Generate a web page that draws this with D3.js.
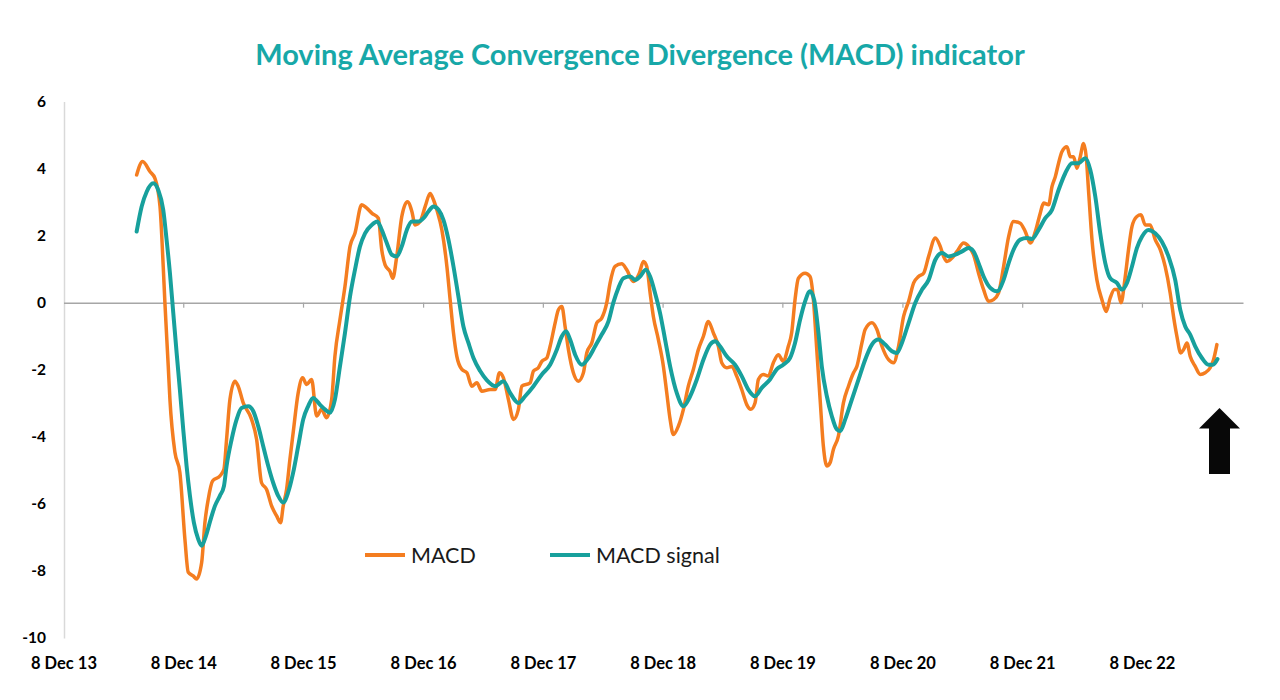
<!doctype html>
<html>

<head>
    <meta charset="UTF-8">
    <title>MACD indicator</title>
    <script src="https://d3js.org/d3.v7.min.js"></script>
    <style>
        body {
            margin: 0;
            background: #ffffff;
        }
    </style>
</head>

<body>
    <svg id="chart" width="1280" height="700"></svg>
    <script>
        // time is in decimal years
        var macdData = [
            [2014.545, 3.81], [2014.595, 4.21], [2014.656, 3.91], [2014.698, 3.71], [2014.740, 2.87],
            [2014.767, 1.08], [2014.781, 0], [2014.809, -1.9], [2014.823, -2.89], [2014.865, -4.47],
            [2014.906, -5.06], [2014.948, -7.05], [2014.976, -8.04], [2015.017, -8.15], [2015.046, -8.24],
            [2015.088, -7.75], [2015.115, -6.56], [2015.143, -5.86], [2015.179, -5.32], [2015.240, -5.17],
            [2015.274, -4.97], [2015.296, -4.08], [2015.324, -2.89], [2015.366, -2.34], [2015.393, -2.49],
            [2015.435, -2.99], [2015.505, -3.48], [2015.547, -4.08], [2015.588, -5.37], [2015.630, -5.57],
            [2015.672, -6.06], [2015.714, -6.36], [2015.747, -6.56], [2015.769, -6.06], [2015.797, -5.57],
            [2015.825, -4.67], [2015.852, -3.88], [2015.894, -2.69], [2015.931, -2.24], [2015.964, -2.44],
            [2016.006, -2.29], [2016.048, -3.38], [2016.089, -3.18], [2016.131, -3.43], [2016.173, -2.89],
            [2016.200, -1.6], [2016.242, -0.51], [2016.284, 0.49], [2016.326, 1.68], [2016.367, 2.07],
            [2016.423, 2.92], [2016.465, 2.82], [2016.507, 2.67], [2016.562, 2.52], [2016.590, 1.58],
            [2016.618, 1.13], [2016.659, 0.93], [2016.682, 0.73], [2016.715, 1.38], [2016.757, 2.57],
            [2016.804, 3.01], [2016.841, 2.72], [2016.868, 2.32], [2016.910, 2.42], [2016.952, 2.87],
            [2016.993, 3.26], [2017.021, 3.07], [2017.049, 2.77], [2017.091, 2.17], [2017.133, 1.08],
            [2017.160, 0.09], [2017.188, -0.9], [2017.216, -1.6], [2017.258, -1.99], [2017.300, -2.09],
            [2017.341, -2.49], [2017.383, -2.39], [2017.425, -2.64], [2017.494, -2.59], [2017.536, -2.59],
            [2017.572, -2.09], [2017.605, -2.24], [2017.647, -2.89], [2017.689, -3.48], [2017.730, -3.18],
            [2017.759, -2.49], [2017.828, -2.39], [2017.856, -2.04], [2017.897, -1.94], [2017.926, -1.75],
            [2017.967, -1.65], [2017.995, -1.3], [2018.037, -0.6], [2018.064, -0.21], [2018.093, -0.11],
            [2018.120, -0.71], [2018.148, -1.4], [2018.189, -2.09], [2018.231, -2.34], [2018.273, -2.09],
            [2018.301, -1.5], [2018.343, -1.2], [2018.385, -0.6], [2018.426, -0.46], [2018.468, 0],
            [2018.496, 0.59], [2018.537, 1.08], [2018.593, 1.16], [2018.635, 0.98], [2018.690, 0.63],
            [2018.740, 0.88], [2018.774, 1.23], [2018.802, 1.08], [2018.830, 0.29], [2018.857, -0.41],
            [2018.899, -1.1], [2018.941, -1.9], [2018.969, -2.69], [2018.997, -3.48], [2019.024, -3.93],
            [2019.066, -3.68], [2019.108, -3.18], [2019.149, -2.49], [2019.191, -1.99], [2019.233, -1.4],
            [2019.275, -1.0], [2019.316, -0.56], [2019.358, -0.9], [2019.400, -1.3], [2019.428, -1.79],
            [2019.470, -1.94], [2019.512, -1.9], [2019.553, -2.19], [2019.595, -2.59], [2019.637, -3.04],
            [2019.670, -3.18], [2019.706, -2.99], [2019.734, -2.29], [2019.775, -2.14], [2019.817, -2.19],
            [2019.859, -1.79], [2019.901, -1.55], [2019.942, -1.75], [2019.984, -1.3], [2020.012, -0.9],
            [2020.040, 0.09], [2020.068, 0.73], [2020.124, 0.88], [2020.165, 0.78], [2020.193, 0.09],
            [2020.221, -1.4], [2020.249, -2.89], [2020.276, -4.28], [2020.305, -4.87], [2020.332, -4.77],
            [2020.360, -4.37], [2020.401, -3.98], [2020.443, -2.99], [2020.485, -2.49], [2020.527, -2.09],
            [2020.555, -1.9], [2020.597, -1.2], [2020.624, -0.8], [2020.680, -0.6], [2020.722, -0.8],
            [2020.764, -1.3], [2020.819, -1.7], [2020.861, -1.79], [2020.902, -1.3], [2020.944, -0.41],
            [2020.986, 0.04], [2021.028, 0.59], [2021.069, 0.78], [2021.111, 0.88], [2021.153, 1.38],
            [2021.209, 1.93], [2021.250, 1.68], [2021.278, 1.38], [2021.306, 1.23], [2021.348, 1.33],
            [2021.390, 1.53], [2021.445, 1.78], [2021.487, 1.68], [2021.528, 1.43], [2021.570, 0.88],
            [2021.612, 0.39], [2021.654, 0.04], [2021.695, 0.09], [2021.737, 0.29], [2021.779, 1.08],
            [2021.821, 1.97], [2021.862, 2.42], [2021.918, 2.37], [2021.960, 2.12], [2022.002, 1.78],
            [2022.044, 2.12], [2022.085, 2.67], [2022.113, 2.97], [2022.155, 2.92], [2022.183, 3.46],
            [2022.211, 3.76], [2022.238, 4.16], [2022.266, 4.5], [2022.308, 4.65], [2022.336, 4.35],
            [2022.363, 4.35], [2022.392, 4.01], [2022.419, 4.35], [2022.447, 4.75], [2022.469, 4.35],
            [2022.488, 3.36], [2022.517, 1.88], [2022.558, 0.68], [2022.600, 0.09], [2022.636, -0.26],
            [2022.669, 0.14], [2022.705, 0.39], [2022.730, 0.39], [2022.759, 0], [2022.795, 0.78],
            [2022.822, 1.58], [2022.851, 2.27], [2022.892, 2.57], [2022.926, 2.62], [2022.962, 2.32],
            [2023.003, 2.32], [2023.045, 1.88], [2023.087, 1.58], [2023.128, 1.08], [2023.170, 0.29],
            [2023.198, -0.41], [2023.226, -1.0], [2023.258, -1.5], [2023.282, -1.4], [2023.310, -1.2],
            [2023.337, -1.6], [2023.379, -1.9], [2023.421, -2.14], [2023.462, -2.09], [2023.504, -1.94],
            [2023.532, -1.7], [2023.560, -1.25]
        ];

        var signalData = [
            [2014.545, 2.12], [2014.587, 2.87], [2014.629, 3.31], [2014.684, 3.56], [2014.725, 3.36],
            [2014.767, 2.77], [2014.795, 1.88], [2014.823, 0.88], [2014.851, -0.31], [2014.879, -1.5],
            [2014.906, -2.59], [2014.934, -3.78], [2014.962, -4.87], [2014.990, -5.76], [2015.023, -6.56],
            [2015.059, -7.05], [2015.088, -7.25], [2015.123, -6.96], [2015.163, -6.46], [2015.199, -6.06],
            [2015.240, -5.76], [2015.274, -5.47], [2015.296, -4.87], [2015.338, -4.08], [2015.380, -3.48],
            [2015.421, -3.14], [2015.477, -3.09], [2015.518, -3.23], [2015.560, -3.68], [2015.602, -4.28],
            [2015.644, -4.87], [2015.685, -5.37], [2015.727, -5.76], [2015.769, -5.96], [2015.810, -5.66],
            [2015.852, -5.07], [2015.894, -4.28], [2015.936, -3.48], [2015.977, -3.09], [2016.019, -2.84],
            [2016.075, -3.04], [2016.117, -3.18], [2016.159, -3.28], [2016.200, -2.89], [2016.242, -1.9],
            [2016.284, -0.9], [2016.326, 0.19], [2016.367, 0.98], [2016.409, 1.68], [2016.451, 2.07],
            [2016.507, 2.32], [2016.553, 2.42], [2016.590, 2.17], [2016.632, 1.78], [2016.674, 1.43],
            [2016.715, 1.38], [2016.757, 1.68], [2016.799, 2.17], [2016.841, 2.42], [2016.896, 2.42],
            [2016.938, 2.52], [2016.979, 2.72], [2017.021, 2.87], [2017.063, 2.77], [2017.104, 2.47],
            [2017.146, 1.88], [2017.188, 1.08], [2017.229, 0.19], [2017.271, -0.71], [2017.313, -1.2],
            [2017.355, -1.65], [2017.411, -2.04], [2017.466, -2.31], [2017.536, -2.49], [2017.605, -2.34],
            [2017.661, -2.69], [2017.730, -2.99], [2017.786, -2.79], [2017.856, -2.49], [2017.926, -2.14],
            [2017.995, -1.85], [2018.051, -1.4], [2018.093, -1.0], [2018.128, -0.85], [2018.162, -1.1],
            [2018.204, -1.55], [2018.260, -1.85], [2018.315, -1.65], [2018.371, -1.3], [2018.426, -0.95],
            [2018.482, -0.56], [2018.523, 0], [2018.565, 0.44], [2018.607, 0.73], [2018.663, 0.78],
            [2018.704, 0.68], [2018.746, 0.78], [2018.794, 0.98], [2018.830, 0.78], [2018.871, 0.29],
            [2018.913, -0.31], [2018.955, -1.1], [2018.997, -1.9], [2019.053, -2.7], [2019.108, -3.09],
            [2019.164, -2.79], [2019.220, -2.29], [2019.275, -1.7], [2019.331, -1.25], [2019.373, -1.15],
            [2019.414, -1.3], [2019.470, -1.6], [2019.539, -1.85], [2019.595, -2.19], [2019.650, -2.59],
            [2019.706, -2.79], [2019.762, -2.54], [2019.831, -2.29], [2019.887, -1.99], [2019.942, -1.85],
            [2019.998, -1.65], [2020.040, -1.2], [2020.082, -0.51], [2020.124, 0.04], [2020.165, 0.34],
            [2020.199, 0.09], [2020.235, -0.9], [2020.263, -1.9], [2020.305, -2.79], [2020.346, -3.38],
            [2020.388, -3.78], [2020.416, -3.83], [2020.458, -3.48], [2020.513, -2.89], [2020.569, -2.29],
            [2020.624, -1.7], [2020.680, -1.25], [2020.735, -1.1], [2020.791, -1.25], [2020.847, -1.45],
            [2020.888, -1.5], [2020.930, -1.2], [2020.986, -0.6], [2021.042, 0], [2021.098, 0.39],
            [2021.153, 0.68], [2021.209, 1.28], [2021.265, 1.48], [2021.320, 1.38], [2021.376, 1.43],
            [2021.432, 1.53], [2021.487, 1.63], [2021.528, 1.53], [2021.570, 1.18], [2021.612, 0.78],
            [2021.668, 0.44], [2021.724, 0.34], [2021.779, 0.68], [2021.821, 1.18], [2021.862, 1.58],
            [2021.918, 1.88], [2021.974, 1.93], [2022.016, 1.9], [2022.071, 2.17], [2022.127, 2.52],
            [2022.183, 2.77], [2022.238, 3.36], [2022.294, 3.86], [2022.350, 4.16], [2022.405, 4.16],
            [2022.461, 4.31], [2022.503, 3.96], [2022.545, 3.16], [2022.586, 2.07], [2022.628, 1.18],
            [2022.669, 0.73], [2022.725, 0.59], [2022.767, 0.39], [2022.809, 0.59], [2022.851, 1.08],
            [2022.892, 1.63], [2022.934, 1.97], [2022.989, 2.17], [2023.045, 2.07], [2023.101, 1.82],
            [2023.156, 1.38], [2023.212, 0.68], [2023.254, -0.21], [2023.296, -0.71], [2023.337, -0.95],
            [2023.379, -1.3], [2023.435, -1.65], [2023.490, -1.85], [2023.527, -1.85], [2023.565, -1.68]
        ];

        var tickYears = [2013, 2014, 2015, 2016, 2017, 2018, 2019, 2020, 2021, 2022];
        var yTicks = [-10, -8, -6, -4, -2, 0, 2, 4, 6];
        var seriesNames = ["MACD", "MACD signal"];
        var seriesColors = ["#f47d20", "#17a09c"];

        function toDate(t) {
            var y = Math.floor(t);
            var start = new Date(y, 0, 1).getTime();
            var end = new Date(y + 1, 0, 1).getTime();
            return new Date(start + (t - y) * (end - start));
        }

        var svg = d3.select("#chart");

        var x = d3.scaleTime()
            .domain([new Date(2013, 11, 8), new Date(2023, 9, 12)])
            .range([63.5, 1243]);
        var y = d3.scaleLinear()
            .domain([-10, 6])
            .range([638, 101.5]);

        // title
        svg.append("text")
            .attr("x", 640)
            .attr("y", 65)
            .attr("text-anchor", "middle")
            .attr("font-family", "Lato, sans-serif")
            .attr("font-weight", "bold")
            .attr("font-size", 29)
            .attr("fill", "#17a8a8")
            .text("Moving Average Convergence Divergence (MACD) indicator");

        // y axis
        var yAxis = svg.append("g")
            .attr("transform", "translate(64,0)")
            .call(d3.axisLeft(y).tickValues(yTicks).tickSize(0).tickPadding(18)
                .tickFormat(function (d) { return String(d); }));
        yAxis.select(".domain").attr("stroke", "#d9d9d9").attr("stroke-width", 1.5);
        yAxis.selectAll("text")
            .attr("font-family", "Lato, sans-serif")
            .attr("font-weight", "bold")
            .attr("font-size", 15.5)
            .attr("fill", "#000");

        // x axis sits on zero
        var xTicks = tickYears.map(function (yr) { return new Date(yr, 11, 8); });
        var xAxis = svg.append("g")
            .attr("transform", "translate(0," + y(0) + ")")
            .call(d3.axisBottom(x).tickValues(xTicks).tickSize(5).tickSizeOuter(0)
                .tickFormat(function (d) { return "8 Dec " + d3.timeFormat("%y")(d); }));
        xAxis.select(".domain").attr("stroke", "#a6a6a6").attr("stroke-width", 1.5);
        xAxis.selectAll(".tick line").attr("stroke", "#a6a6a6").attr("stroke-width", 1.2);
        xAxis.selectAll(".tick").filter(function (d, i) { return i === 0; }).select("line").remove();
        xAxis.selectAll("text")
            .attr("y", 664 - y(0))
            .attr("dy", "0.32em")
            .attr("font-family", "Lato, sans-serif")
            .attr("font-weight", "bold")
            .attr("font-size", 16.5)
            .attr("fill", "#000");

        var line = d3.line()
            .x(function (d) { return x(toDate(d[0])); })
            .y(function (d) { return y(d[1]); })
            .curve(d3.curveMonotoneX);

        svg.append("path")
            .datum(macdData)
            .attr("d", line)
            .attr("fill", "none")
            .attr("stroke", seriesColors[0])
            .attr("stroke-width", 3.5)
            .attr("stroke-linejoin", "round")
            .attr("stroke-linecap", "round");

        svg.append("path")
            .datum(signalData)
            .attr("d", line)
            .attr("fill", "none")
            .attr("stroke", seriesColors[1])
            .attr("stroke-width", 4)
            .attr("stroke-linejoin", "round")
            .attr("stroke-linecap", "round");

        // legend
        var legendX = [365, 550];
        for (var i = 0; i < seriesNames.length; i++) {
            svg.append("line")
                .attr("x1", legendX[i])
                .attr("x2", legendX[i] + 40)
                .attr("y1", 555)
                .attr("y2", 555)
                .attr("stroke", seriesColors[i])
                .attr("stroke-width", 4);
            svg.append("text")
                .attr("x", legendX[i] + 46)
                .attr("y", 555)
                .attr("dy", "0.35em")
                .attr("font-family", "Lato, sans-serif")
                .attr("font-size", 21.5)
                .attr("fill", "#1a1a1a")
                .text(seriesNames[i]);
        }

        // black up arrow at the right
        svg.append("path")
            .attr("d", "M1219.5,408 L1240,428.5 L1230,428.5 L1230,474 L1209,474 L1209,428.5 L1199,428.5 Z")
            .attr("fill", "#080808");
    </script>
</body>

</html>
